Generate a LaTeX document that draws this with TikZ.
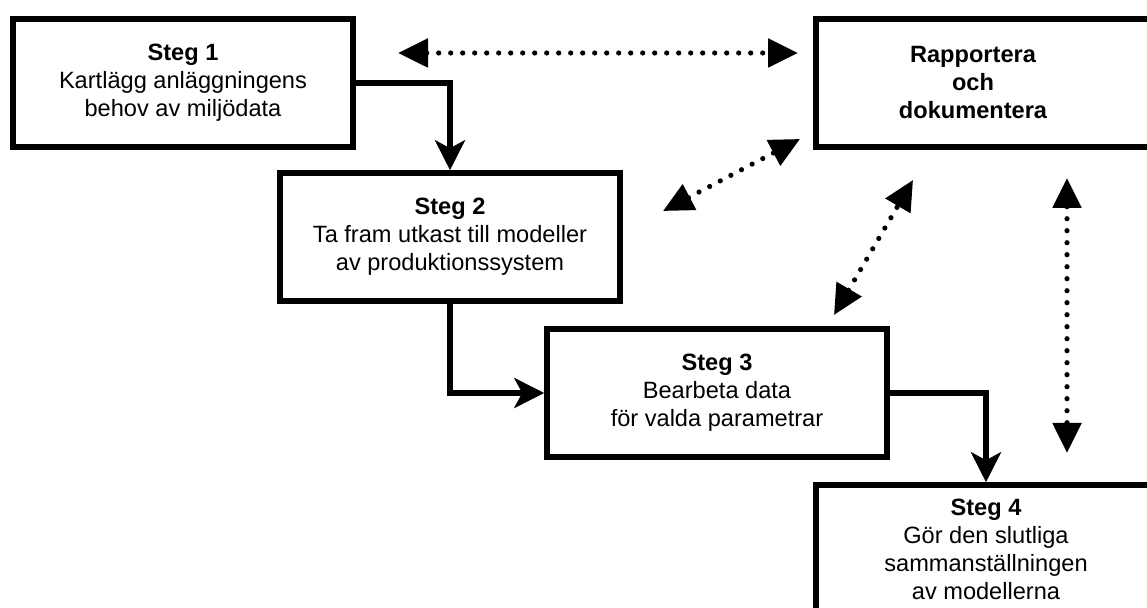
\documentclass[tikz,border=0pt]{standalone}
\usepackage{fontspec}
\setmainfont{Liberation Sans}
\usepackage{tikz}
\usetikzlibrary{arrows.meta}
\usetikzlibrary{positioning}

\tikzset{
	stepbox/.style={draw, line width=2.75pt, minimum width=170pt, minimum height=64pt, inner sep=0pt, align=center, font=\fontsize{11.8}{14}\selectfont},
	flow/.style={line width=2.6pt, -{Stealth[length=15pt, width=15pt, inset=4pt]}},
	link/.style={line width=2.6pt, line cap=round, dash pattern=on 0pt off 6pt, {Triangle[length=15pt, width=14pt]}-{Triangle[length=15pt, width=14pt]}}
}

\begin{document}
\begin{tikzpicture}[x=0.5pt, y=-0.5pt]
		\clip (0, 0) rectangle (1147, 608);

		\node[stepbox] (s1) at (183, 83) {\textbf{Steg 1}\\Kartlägg anläggningens\\behov av miljödata};
		\node[stepbox, minimum width=172pt, label={[align=center, font=\fontsize{11.8}{14}\selectfont\bfseries, xshift=-7.5pt]center:Rapportera\\och\\dokumentera}] (rap) at (988, 83) {};
		\node[stepbox] (s2) at (450, 237) {\textbf{Steg 2}\\Ta fram utkast till modeller\\av produktionssystem};
		\node[stepbox] (s3) at (717, 393) {\textbf{Steg 3}\\Bearbeta data\\för valda parametrar};
		\node[stepbox] (s4) at (986, 549) {\textbf{Steg 4}\\Gör den slutliga\\sammanställningen\\av modellerna};

		\draw[flow] (s1.east) -| (s2.north);
		\draw[flow] (s2.south) |- (s3.west);
		\draw[flow] (s3.east) -| (s4.north);

		\coordinate (d1a) at (398, 53);
		\coordinate (d1b) at (798, 53);
		\coordinate (d2a) at (663, 211);
		\coordinate (d2b) at (800, 139);
		\coordinate (d3a) at (834, 315);
		\coordinate (d3b) at (913, 180);
		\coordinate (d4a) at (1067, 178);
		\coordinate (d4b) at (1067, 453);

		\draw[link] (d1a) -- (d1b);
		\draw[link] (d2a) -- (d2b);
		\draw[link] (d3a) -- (d3b);
		\draw[link] (d4a) -- (d4b);
	\end{tikzpicture}
\end{document}
